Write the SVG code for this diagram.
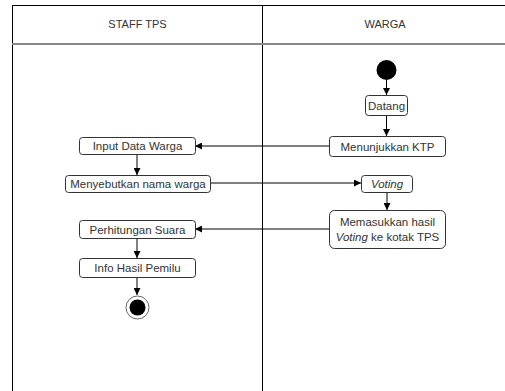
<svg xmlns="http://www.w3.org/2000/svg" width="505" height="391" viewBox="0 0 505 391">
<defs>
<marker id="ah" viewBox="0 0 10 10" refX="10" refY="5" markerWidth="7" markerHeight="7" markerUnits="userSpaceOnUse" orient="auto">
<path d="M0,0 L10,5 L0,10 z" fill="#000"/>
</marker>
<style>
.box{fill:#fff;stroke:#333;stroke-width:1}
.t{font-family:"Liberation Sans",Arial,sans-serif;font-size:11.5px;fill:#333;text-anchor:middle}
.h{font-family:"Liberation Sans",Arial,sans-serif;font-size:11px;fill:#333;text-anchor:middle}
.e{fill:none;stroke:#000;stroke-width:1;marker-end:url(#ah)}
.lane{stroke:#000;stroke-width:1;fill:none}
</style>
</defs>
<rect width="505" height="391" fill="#fff"/>
<g id="pool">
<line class="lane" x1="12.5" y1="5.5" x2="505" y2="5.5" stroke="#222"/>
<line class="lane" x1="12.5" y1="5" x2="12.5" y2="391"/>
<line class="lane" x1="262.5" y1="5" x2="262.5" y2="391"/>
<line x1="12" y1="44" x2="505" y2="44" stroke="#888" stroke-width="2"/>
<text class="h" x="137.5" y="28">STAFF TPS</text>
<text class="h" x="385" y="28">WARGA</text>
</g>
<g id="edges">
<path class="e" d="M386.5,80 L386.5,95"/>
<path class="e" d="M386.5,115 L386.5,136"/>
<path class="e" d="M329,146 L195,146"/>
<path class="e" d="M137,154 L137,175"/>
<path class="e" d="M210,183 L361,183"/>
<path class="e" d="M387,192 L387,210"/>
<path class="e" d="M329,229 L195,229"/>
<path class="e" d="M137,238 L137,258"/>
<path class="e" d="M137,277 L137,295"/>
</g>
<g id="start"><circle cx="386.5" cy="70" r="10" fill="#000"/></g>
<g id="datang"><rect class="box" x="365.5" y="95.5" width="42" height="20" rx="3"/><text class="t" x="386.5" y="109.5">Datang</text></g>
<g id="ktp"><rect class="box" x="329.5" y="136.5" width="116" height="20" rx="3"/><text class="t" x="387.5" y="150.5">Menunjukkan KTP</text></g>
<g id="input"><rect class="box" x="79.5" y="137.5" width="116" height="17" rx="3"/><text class="t" x="137.5" y="150">Input Data Warga</text></g>
<g id="sebut"><rect class="box" x="65.5" y="175.5" width="145" height="17" rx="3"/><text class="t" x="138" y="188">Menyebutkan nama warga</text></g>
<g id="voting"><rect class="box" x="361.5" y="175.5" width="51" height="17" rx="3"/><text class="t" x="387" y="188" font-style="italic">Voting</text></g>
<g id="masuk"><rect class="box" x="329.5" y="210.5" width="116" height="38" rx="5"/><text class="t" x="387.5" y="226">Memasukkan hasil</text><text class="t" x="387.5" y="241"><tspan font-style="italic">Voting</tspan> ke kotak TPS</text></g>
<g id="hitung"><rect class="box" x="79.5" y="220.5" width="116" height="18" rx="3"/><text class="t" x="137.5" y="233.5">Perhitungan Suara</text></g>
<g id="info"><rect class="box" x="79.5" y="258.5" width="116" height="19" rx="3"/><text class="t" x="137.5" y="272">Info Hasil Pemilu</text></g>
<g id="end"><circle cx="137.5" cy="307.5" r="11.5" fill="#fff" stroke="#666" stroke-width="1"/><circle cx="137.5" cy="307.5" r="8" fill="#000"/></g>
</svg>
